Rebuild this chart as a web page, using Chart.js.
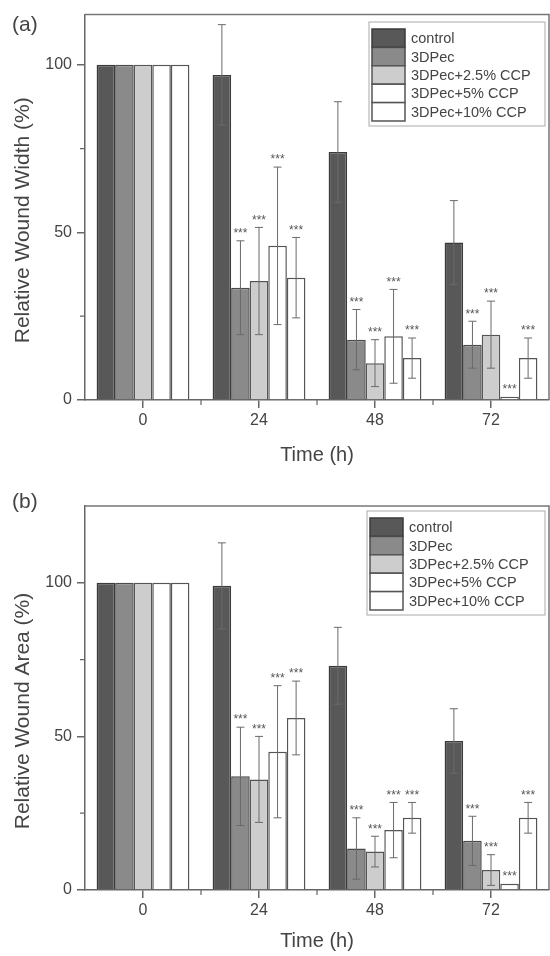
<!DOCTYPE html>
<html>
<head>
<meta charset="utf-8">
<title>Relative wound closure</title>
<script src="https://cdn.jsdelivr.net/npm/chart.js@4.4.1/dist/chart.umd.min.js"></script>
<style>
  html, body { margin: 0; padding: 0; background: #fff; }
  .panel { position: relative; width: 550px; height: 478px; }
  canvas { display: block; }
</style>
</head>
<body>
<div class="panel"><canvas id="widthChart"></canvas></div>
<div class="panel"><canvas id="areaChart"></canvas></div>
<script>
// categories
const timeLabels = ['0', '24', '48', '72'];
const groupNames = ['control', '3DPec', '3DPec+2.5% CCP', '3DPec+5% CCP', '3DPec+10% CCP'];
const yTicks = [0, 50, 100];

// (a) relative wound width, mean and SD per group
const widthControl = [100, 97, 74, 47];
const widthPec     = [100, 33.5, 18, 16.5];
const widthPec25   = [100, 35.5, 11, 19.5];
const widthPec5    = [100, 46, 19, 1];
const widthPec10   = [100, 36.5, 12.5, 12.5];
const widthControlSd = [0, 15, 15, 12.5];
const widthPecSd     = [0, 14, 9, 7];
const widthPec25Sd   = [0, 16, 7, 10];
const widthPec5Sd    = [0, 23.5, 14, 0];
const widthPec10Sd   = [0, 12, 6, 6];

// (b) relative wound area, mean and SD per group
const areaControl = [100, 99, 73, 48.5];
const areaPec     = [100, 37, 13.5, 16];
const areaPec25   = [100, 36, 12.5, 6.5];
const areaPec5    = [100, 45, 19.5, 2];
const areaPec10   = [100, 56, 23.5, 23.5];
const areaControlSd = [0, 14, 12.5, 10.5];
const areaPecSd     = [0, 16, 10, 8];
const areaPec25Sd   = [0, 14, 5, 5];
const areaPec5Sd    = [0, 21.5, 9, 0];
const areaPec10Sd   = [0, 12, 5, 5];

// significance vs control
const controlMarks = ['', '', '', ''];
const treatedMarks = ['', '***', '***', '***'];

const fills   = ['#585858', '#8a8a8a', '#cdcdcd', '#ffffff', '#ffffff'];
const borders = ['#3a3a3a', '#4a4a4a', '#555555', '#555555', '#555555'];
const FONT = '"Liberation Sans", Arial, sans-serif';

Chart.defaults.font.family = FONT;
Chart.defaults.color = '#444';

function makeDatasets(values, sds) {
  return values.map((v, i) => ({
    label: groupNames[i],
    data: v,
    errors: sds[i],
    marks: i === 0 ? controlMarks : treatedMarks,
    backgroundColor: fills[i],
    borderColor: borders[i],
    borderWidth: 1.5,
    borderSkipped: 'bottom',
    categoryPercentage: 0.8,
    barPercentage: 1.0
  }));
}

// error bars + star labels on top of each bar
const errorBarPlugin = {
  id: 'errorBars',
  afterDatasetsDraw(chart) {
    const { ctx } = chart;
    const y = chart.scales.y;
    const cap = 4;
    ctx.save();
    ctx.lineWidth = 1;
    ctx.strokeStyle = '#6a6a6a';
    ctx.fillStyle = '#555';
    ctx.font = '12px ' + FONT;
    ctx.textAlign = 'center';
    ctx.textBaseline = 'bottom';
    chart.data.datasets.forEach((ds, i) => {
      chart.getDatasetMeta(i).data.forEach((bar, j) => {
        const v = ds.data[j];
        const e = ds.errors[j];
        const top = y.getPixelForValue(v + e);
        if (e > 0) {
          const bot = y.getPixelForValue(v - e);
          ctx.beginPath();
          ctx.moveTo(bar.x, top); ctx.lineTo(bar.x, bot);
          ctx.moveTo(bar.x - cap, top); ctx.lineTo(bar.x + cap, top);
          ctx.moveTo(bar.x - cap, bot); ctx.lineTo(bar.x + cap, bot);
          ctx.stroke();
        }
        if (ds.marks[j]) ctx.fillText(ds.marks[j], bar.x, top - 1);
      });
    });
    ctx.restore();
  }
};

// closed frame, minor ticks, y title, panel letter and boxed legend
const framePlugin = {
  id: 'frame',
  afterDraw(chart, args, opts) {
    const { ctx, chartArea: a } = chart;
    const x = chart.scales.x, y = chart.scales.y;
    ctx.save();
    ctx.strokeStyle = '#777';
    ctx.lineWidth = 1.5;
    ctx.beginPath();
    ctx.moveTo(a.left, a.top); ctx.lineTo(a.right, a.top); ctx.lineTo(a.right, a.bottom);
    ctx.stroke();

    ctx.strokeStyle = '#666';
    ctx.lineWidth = 1.2;
    ctx.beginPath();
    [25, 75].forEach(v => {
      const py = y.getPixelForValue(v);
      ctx.moveTo(a.left - 5, py); ctx.lineTo(a.left, py);
    });
    for (let k = 0; k < timeLabels.length - 1; k++) {
      const px = x.getPixelForValue(k + 0.5);
      ctx.moveTo(px, a.bottom); ctx.lineTo(px, a.bottom + 5);
    }
    ctx.stroke();

    ctx.fillStyle = '#444';
    ctx.font = '21px ' + FONT;
    ctx.textAlign = 'center';
    ctx.textBaseline = 'middle';
    ctx.save();
    ctx.translate(23, (a.top + a.bottom) / 2 + 13);
    ctx.rotate(-Math.PI / 2);
    ctx.fillText(opts.yTitle, 0, 0);
    ctx.restore();

    ctx.textAlign = 'left';
    ctx.fillText(opts.tag, 12, opts.tagY);

    // legend
    const lg = opts.legend;
    const rowH = 18.4, swW = 33;
    const n = chart.data.datasets.length;
    ctx.strokeStyle = '#aaa';
    ctx.lineWidth = 1;
    ctx.strokeRect(lg.x, lg.y, lg.w, n * rowH + 12);
    ctx.font = '14.5px ' + FONT;
    chart.data.datasets.forEach((ds, i) => {
      const ry = lg.y + 7 + i * rowH;
      ctx.fillStyle = ds.backgroundColor;
      ctx.fillRect(lg.x + 3, ry, swW, rowH);
      ctx.strokeStyle = ds.borderColor;
      ctx.lineWidth = 1.5;
      ctx.strokeRect(lg.x + 3, ry, swW, rowH);
      ctx.fillStyle = '#444';
      ctx.fillText(ds.label, lg.x + swW + 9, ry + rowH / 2 + 1);
    });
    ctx.restore();
  }
};

function buildChart(id, values, sds, cfg) {
  new Chart(document.getElementById(id), {
    type: 'bar',
    data: { labels: timeLabels, datasets: makeDatasets(values, sds) },
    options: {
      responsive: true,
      maintainAspectRatio: false,
      animation: false,
      layout: { padding: { left: 0, top: cfg.top, right: 1, bottom: 0 } },
      plugins: {
        legend: { display: false },
        tooltip: { enabled: false },
        frame: { tag: cfg.tag, tagY: cfg.tagY, legend: cfg.legend, yTitle: cfg.yTitle }
      },
      scales: {
        x: {
          afterFit: axis => { axis.height = cfg.xHeight; },
          grid: { offset: false, drawOnChartArea: false, drawTicks: true, tickLength: 8, color: '#666', lineWidth: 1.5 },
          border: { color: '#666', width: 1.5 },
          ticks: { padding: 3, font: { size: 16 }, color: '#444' },
          title: { display: true, text: 'Time (h)', font: { size: 20 }, color: '#444', padding: { top: 0, bottom: cfg.titlePad } }
        },
        y: {
          min: 0,
          max: cfg.yMax,
          afterFit: axis => { axis.width = 85; },
          afterBuildTicks: axis => { axis.ticks = yTicks.map(v => ({ value: v })); },
          grid: { drawOnChartArea: false, drawTicks: true, tickLength: 8, color: '#666', lineWidth: 1.5 },
          border: { color: '#666', width: 1.5 },
          ticks: { padding: 5, font: { size: 16 }, color: '#444' },
          title: { display: false }
        }
      }
    },
    plugins: [errorBarPlugin, framePlugin]
  });
}

buildChart('widthChart',
  [widthControl, widthPec, widthPec25, widthPec5, widthPec10],
  [widthControlSd, widthPecSd, widthPec25Sd, widthPec5Sd, widthPec10Sd],
  { top: 14, xHeight: 78, titlePad: 11, yMax: 115, yTitle: 'Relative Wound Width (%)',
    tag: '(a)', tagY: 25, legend: { x: 369, y: 22, w: 176 } });

buildChart('areaChart',
  [areaControl, areaPec, areaPec25, areaPec5, areaPec10],
  [areaControlSd, areaPecSd, areaPec25Sd, areaPec5Sd, areaPec10Sd],
  { top: 28, xHeight: 66, titlePad: 3, yMax: 125, yTitle: 'Relative Wound Area (%)',
    tag: '(b)', tagY: 24, legend: { x: 367, y: 33, w: 178 } });
</script>
</body>
</html>
